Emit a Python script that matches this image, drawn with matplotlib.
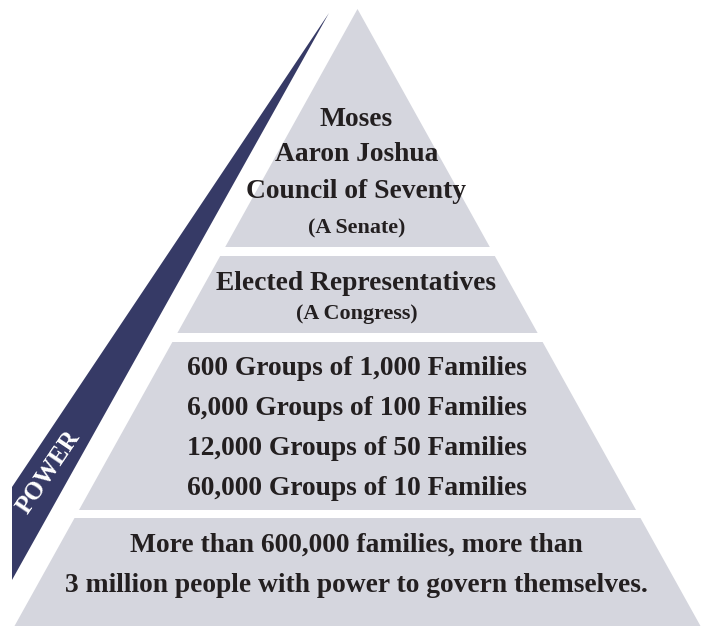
import matplotlib
matplotlib.use("Agg")
import matplotlib.pyplot as plt
from matplotlib.patches import Polygon

# ---------------- data ----------------
tier_lines = [
    ["Moses", "Aaron Joshua", "Council of Seventy"],
    ["Elected Representatives"],
    ["600 Groups of 1,000 Families", "6,000 Groups of 100 Families",
     "12,000 Groups of 50 Families", "60,000 Groups of 10 Families"],
    ["More than 600,000 families, more than",
     "3 million people with power to govern themselves."],
]
tier_notes = ["(A Senate)", "(A Congress)", None, None]
side_label = "POWER"

# ---------------- layout (pixel space) ----------------
W, H = 707, 627
apex = (357.5, 9.0)
base_y = 626.0
base_half = 343.0
tier_bounds = [(9, 247), (256, 333), (342, 510), (518, 626)]
line_baselines = [[126, 161, 198], [290], [375, 415, 455, 495], [552, 592]]
note_baselines = [233, 319, None, None]
wedge = [(329, 13), (12, 487), (12, 580)]

fill_col = "#d5d6de"
navy = "#363a66"
text_col = "#231f20"
FONT = ["Liberation Serif", "DejaVu Serif"]
main_size = 19.8
note_size = 15.8

fig = plt.figure(figsize=(W / 100, H / 100), dpi=100)
ax = fig.add_axes([0, 0, 1, 1])
ax.set_xlim(0, W)
ax.set_ylim(H, 0)
ax.axis("off")

k = base_half / (base_y - apex[1])


def half(y):
    return k * (y - apex[1])


cx = apex[0]
for (y0, y1) in tier_bounds:
    pts = [(cx - half(y0), y0), (cx + half(y0), y0),
           (cx + half(y1), y1), (cx - half(y1), y1)]
    ax.add_patch(Polygon(pts, closed=True, facecolor=fill_col,
                         edgecolor="none"))

ax.add_patch(Polygon(wedge, closed=True, facecolor=navy, edgecolor="none"))

for lines, ys, note, ny in zip(tier_lines, line_baselines, tier_notes,
                               note_baselines):
    for s, y in zip(lines, ys):
        ax.text(cx - 1, y, s, ha="center", va="baseline", fontsize=main_size,
                fontweight="bold", family=FONT, color=text_col)
    if note:
        ax.text(cx - 1, ny, note, ha="center", va="baseline",
                fontsize=note_size, fontweight="bold", family=FONT,
                color=text_col)

ax.text(49, 472, side_label, rotation=56, rotation_mode="anchor",
        ha="center", va="center", fontsize=18, fontweight="bold",
        family=FONT, color="white")

fig.savefig("out.png", dpi=100, facecolor="white")
